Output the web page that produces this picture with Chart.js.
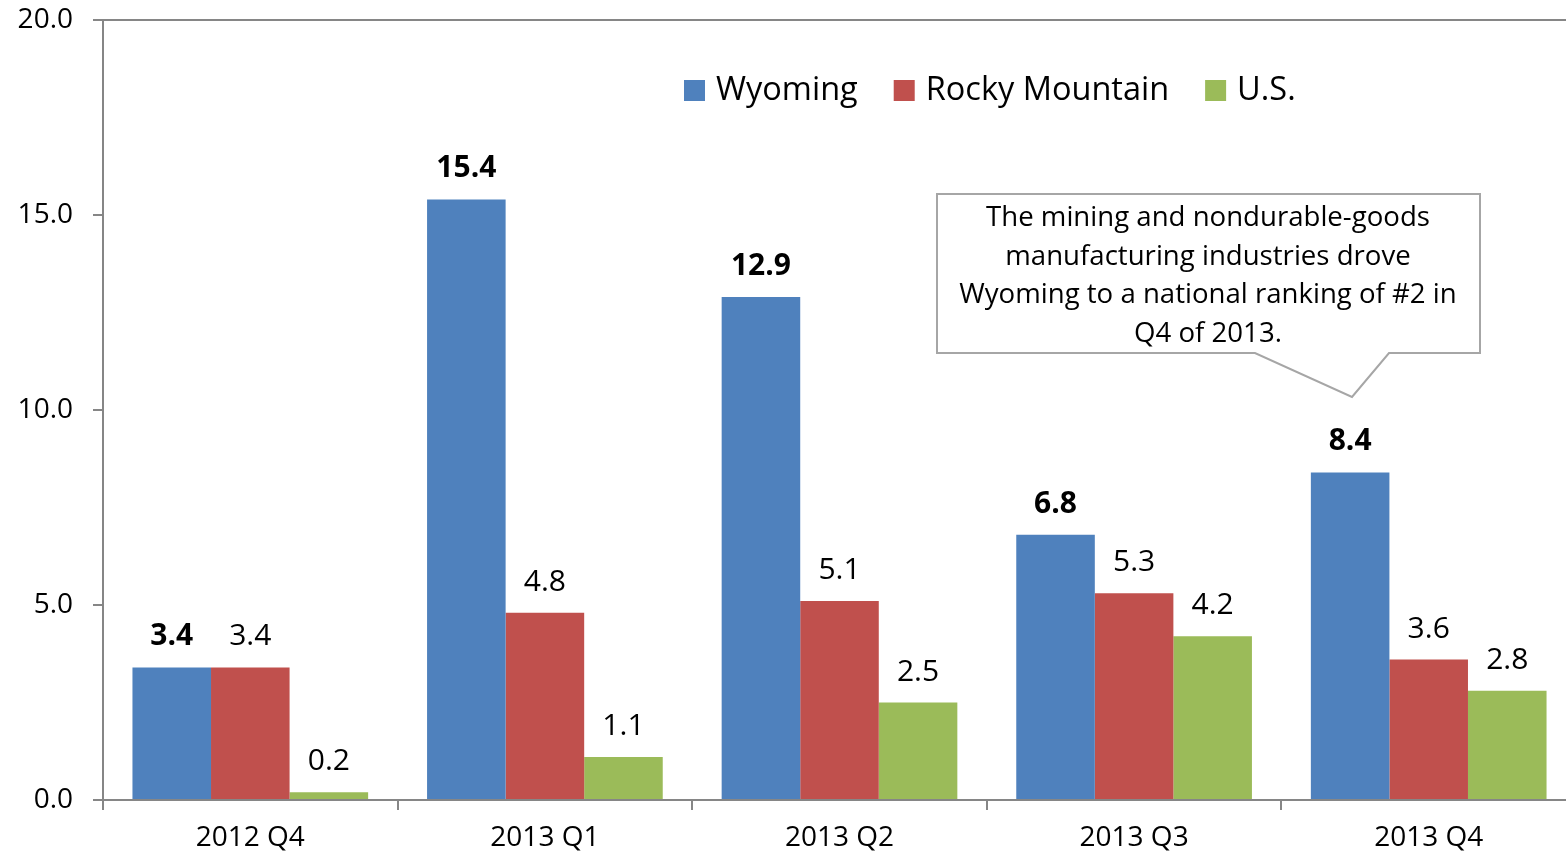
<!DOCTYPE html>
<html>
<head>
<meta charset="utf-8">
<script src="https://cdn.jsdelivr.net/npm/chart.js@4.4.1/dist/chart.umd.min.js"></script>
<style>
  html, body { margin: 0; padding: 0; background: #fff; overflow: hidden; }
  #wrap { width: 1576px; height: 851px; }
</style>
</head>
<body>
<div id="wrap"><canvas id="c" width="1576" height="851"></canvas></div>
<script>
const categories = ['2012 Q4', '2013 Q1', '2013 Q2', '2013 Q3', '2013 Q4'];
const wyoming = [3.4, 15.4, 12.9, 6.8, 8.4];
const rockyMountain = [3.4, 4.8, 5.1, 5.3, 3.6];
const us = [0.2, 1.1, 2.5, 4.2, 2.8];
const seriesNames = ['Wyoming', 'Rocky Mountain', 'U.S.'];
const yTicks = [0, 5, 10, 15, 20];
const calloutLines = [
  'The mining and nondurable-goods',
  'manufacturing industries drove',
  'Wyoming to a national ranking of #2 in',
  'Q4 of 2013.'
];

const FONT = "'Open Sans', 'DejaVu Sans', sans-serif";
const AXIS_COLOR = '#868686';

const dataLabels = {
  id: 'dataLabels',
  afterDatasetsDraw(chart) {
    const ctx = chart.ctx;
    ctx.save();
    ctx.fillStyle = '#000';
    ctx.textAlign = 'center';
    ctx.textBaseline = 'alphabetic';
    chart.data.datasets.forEach((ds, di) => {
      const meta = chart.getDatasetMeta(di);
      ctx.font = (di === 0 ? 'bold ' : '') + '30px ' + FONT;
      meta.data.forEach((bar, i) => {
        ctx.fillText(ds.data[i].toFixed(1), bar.x, bar.y - 22);
      });
    });
    ctx.restore();
  }
};

const customLegend = {
  id: 'customLegend',
  afterDraw(chart) {
    const ctx = chart.ctx;
    ctx.save();
    ctx.font = '32.5px ' + FONT;
    ctx.textBaseline = 'alphabetic';
    ctx.textAlign = 'left';
    let x = 684;
    chart.data.datasets.forEach((ds) => {
      ctx.fillStyle = ds.backgroundColor;
      ctx.fillRect(x, 80, 21, 21);
      ctx.fillStyle = '#000';
      ctx.fillText(ds.label, x + 32, 100);
      x += 32 + ctx.measureText(ds.label).width + 36;
    });
    ctx.restore();
  }
};

const callout = {
  id: 'callout',
  afterDraw(chart) {
    const ctx = chart.ctx;
    ctx.save();
    ctx.beginPath();
    ctx.moveTo(937, 194);
    ctx.lineTo(1480, 194);
    ctx.lineTo(1480, 353);
    ctx.lineTo(1389, 353);
    ctx.lineTo(1352, 397);
    ctx.lineTo(1255, 353);
    ctx.lineTo(937, 353);
    ctx.closePath();
    ctx.fillStyle = '#fff';
    ctx.fill();
    ctx.strokeStyle = '#A6A6A6';
    ctx.lineWidth = 2;
    ctx.stroke();
    ctx.fillStyle = '#000';
    ctx.font = '27.6px ' + FONT;
    ctx.textAlign = 'center';
    ctx.textBaseline = 'alphabetic';
    calloutLines.forEach((line, i) => {
      ctx.fillText(line, 1208, 226 + i * 38.5);
    });
    ctx.restore();
  }
};

new Chart(document.getElementById('c'), {
  type: 'bar',
  data: {
    labels: categories,
    datasets: [
      { label: seriesNames[0], data: wyoming, backgroundColor: '#4F81BD' },
      { label: seriesNames[1], data: rockyMountain, backgroundColor: '#C0504D' },
      { label: seriesNames[2], data: us, backgroundColor: '#9BBB59' }
    ]
  },
  options: {
    responsive: false,
    animation: false,
    devicePixelRatio: 1,
    layout: { padding: { top: 20, right: 0, bottom: 0, left: 0 } },
    datasets: { bar: { categoryPercentage: 0.80, barPercentage: 1.0, borderWidth: 0 } },
    plugins: {
      legend: { display: false },
      tooltip: { enabled: false },
      title: { display: false }
    },
    scales: {
      x: {
        offset: true,
        grid: {
          offset: true,
          drawOnChartArea: false,
          drawTicks: true,
          tickLength: 10,
          tickColor: AXIS_COLOR,
          lineWidth: 2
        },
        border: { display: true, color: AXIS_COLOR, width: 2 },
        ticks: {
          color: '#000',
          font: { family: FONT, size: 28 },
          padding: 11,
          maxRotation: 0,
          autoSkip: false
        },
        afterFit(scale) { scale.height = 51; }
      },
      y: {
        min: 0,
        max: 20,
        afterBuildTicks(scale) { scale.ticks = yTicks.map(v => ({ value: v })); },
        grid: {
          drawOnChartArea: true,
          drawTicks: true,
          tickLength: 10,
          color: (c) => (c.tick && c.tick.value === 20 ? AXIS_COLOR : 'rgba(0,0,0,0)'),
          tickColor: AXIS_COLOR,
          lineWidth: 2
        },
        border: { display: true, color: AXIS_COLOR, width: 2 },
        ticks: {
          color: '#000',
          font: { family: FONT, size: 28 },
          padding: 20,
          callback: (v) => Number(v).toFixed(1)
        },
        afterFit(scale) {
          scale.width = 103;
          scale.paddingTop = 0;
          scale.paddingBottom = 0;
        }
      }
    }
  },
  plugins: [dataLabels, customLegend, callout]
});
</script>
</body>
</html>
